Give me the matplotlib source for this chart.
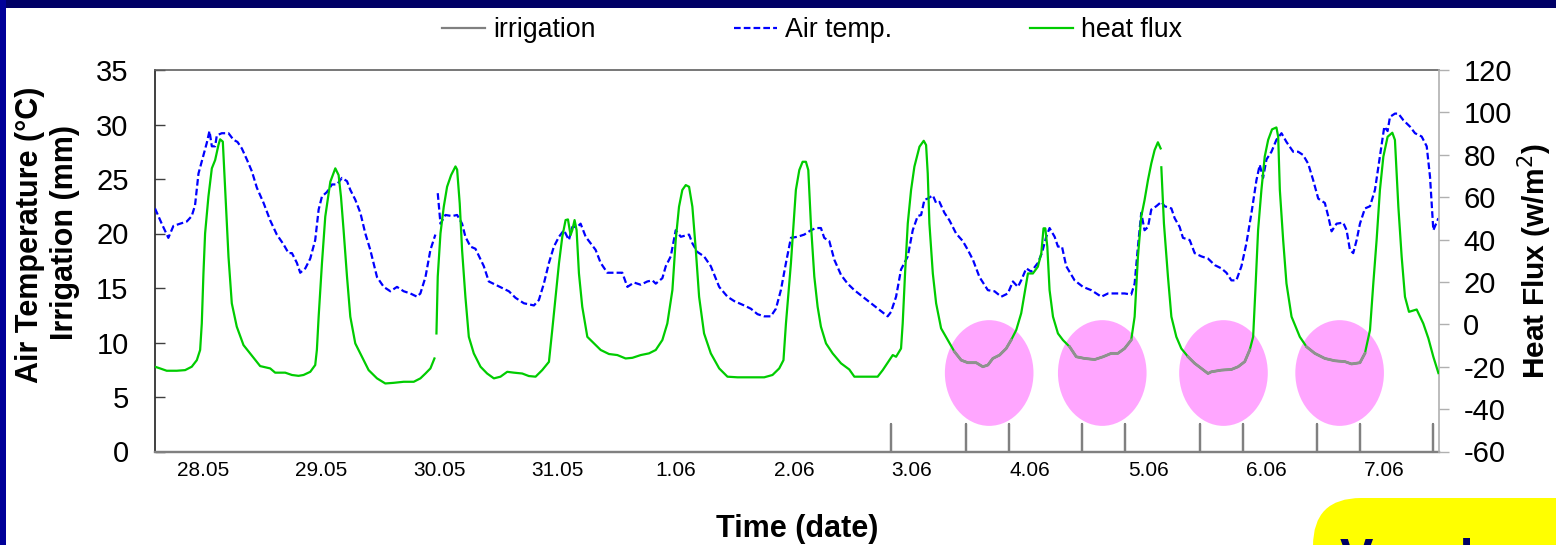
import numpy as np
import matplotlib
matplotlib.use("Agg")
import matplotlib.pyplot as plt
import matplotlib.patches as mpatches
from matplotlib.lines import Line2D
from matplotlib.transforms import IdentityTransform

plt.rcParams['font.family'] = ['Liberation Sans', 'DejaVu Sans']
plt.rcParams['axes.unicode_minus'] = False

# x axis: days counted from 28.05 (label positions at whole days)
day_labels = ["28.05", "29.05", "30.05", "31.05", "1.06", "2.06",
              "3.06", "4.06", "5.06", "6.06", "7.06"]

# air temperature (deg C), NaN = gap in the logger record
temp_t = [-0.407, -0.350, -0.294, -0.251, -0.195, -0.138, -0.096, -0.068, -0.039, 0.003,
          0.031, 0.054, 0.074, 0.102, 0.116, 0.158, 0.215, 0.257, 0.291, 0.328,
          0.370, 0.413, 0.455, 0.512, 0.568, 0.624, 0.681, 0.723, 0.752, 0.794,
          0.822, 0.865, 0.907, 0.949, 0.978, 1.006, 1.048, 1.091, 1.133, 1.175,
          1.218, 1.246, 1.288, 1.331, 1.373, 1.415, 1.472, 1.529, 1.585, 1.641,
          1.698, 1.754, 1.811, 1.839, 1.882, 1.924, 1.966, 1.976, 1.986, 2.009,
          2.051, 2.108, 2.150, 2.192, 2.220, 2.263, 2.305, 2.376, 2.418, 2.475,
          2.531, 2.588, 2.644, 2.715, 2.800, 2.842, 2.884, 2.927, 2.969, 3.012,
          3.054, 3.096, 3.125, 3.167, 3.195, 3.238, 3.280, 3.322, 3.365, 3.421,
          3.478, 3.548, 3.591, 3.647, 3.704, 3.760, 3.803, 3.831, 3.887, 3.916,
          3.958, 4.000, 4.043, 4.113, 4.141, 4.184, 4.240, 4.297, 4.368, 4.438,
          4.495, 4.579, 4.636, 4.692, 4.749, 4.805, 4.848, 4.890, 4.933, 4.975,
          5.031, 5.088, 5.144, 5.187, 5.229, 5.257, 5.300, 5.342, 5.399, 5.455,
          5.512, 5.582, 5.653, 5.724, 5.794, 5.822, 5.865, 5.907, 5.935, 5.964,
          6.006, 6.048, 6.077, 6.105, 6.133, 6.176, 6.204, 6.232, 6.274, 6.317,
          6.373, 6.430, 6.472, 6.515, 6.571, 6.642, 6.698, 6.755, 6.811, 6.854,
          6.896, 6.924, 6.967, 7.009, 7.065, 7.099, 7.136, 7.164, 7.207, 7.235,
          7.269, 7.305, 7.376, 7.447, 7.517, 7.560, 7.602, 7.659, 7.686, 7.742,
          7.799, 7.855, 7.884, 7.912, 7.940, 7.968, 7.997, 8.025, 8.067, 8.110,
          8.138, 8.195, 8.223, 8.265, 8.293, 8.350, 8.392, 8.449, 8.505, 8.562,
          8.618, 8.661, 8.703, 8.745, 8.788, 8.830, 8.873, 8.915, 8.943, 8.971,
          9.000, 9.042, 9.084, 9.127, 9.169, 9.226, 9.268, 9.310, 9.353, 9.395,
          9.438, 9.494, 9.522, 9.551, 9.593, 9.649, 9.678, 9.706, 9.734, 9.763,
          9.791, 9.833, 9.876, 9.918, 9.960, 9.997, 10.025, 10.045, 10.087, 10.116,
          10.158, 10.215, 10.257, 10.313, 10.356, 10.384, 10.412, 10.455]
temp_c = [22.3, 20.9, 19.6, 20.7, 20.9, 21.1, 21.6, 22.6, 25.5, 27.2,
          28.3, 29.4, 28.0, 28.0, 29.0, 29.2, 29.2, 28.6, 28.4, 27.8,
          26.8, 25.7, 24.2, 22.8, 21.2, 19.9, 19.0, 18.2, 18.2, 17.3,
          16.4, 16.8, 17.7, 19.4, 22.2, 23.4, 23.8, 24.5, 24.5, 25.1,
          24.8, 24.0, 23.1, 21.9, 20.0, 18.5, 16.0, 15.1, 14.7, 15.1,
          14.7, 14.5, 14.2, 14.5, 16.0, 18.5, 19.9, np.nan, 23.7, 20.9,
          21.7, 21.6, 21.7, 20.9, 19.7, 18.8, 18.6, 17.0, 15.6, 15.3,
          15.0, 14.7, 14.1, 13.6, 13.4, 13.9, 15.4, 17.3, 18.8, 19.7,
          20.3, 19.4, 20.6, 20.6, 20.9, 19.7, 19.1, 18.5, 17.3, 16.4,
          16.4, 16.4, 15.1, 15.5, 15.3, 15.6, 15.7, 15.4, 15.9, 17.0,
          17.9, 20.3, 19.7, 19.9, 19.1, 18.3, 17.9, 17.0, 15.1, 14.2,
          13.8, 13.4, 13.1, 12.6, 12.4, 12.4, 13.1, 14.8, 17.3, 19.6,
          19.7, 19.9, 20.3, 20.5, 20.5, 19.6, 19.3, 17.6, 16.2, 15.4,
          14.8, 14.2, 13.6, 13.0, 12.4, 12.8, 14.2, 16.7, 17.3, 17.9,
          20.3, 21.6, 21.7, 23.1, 23.2, 23.5, 22.8, 22.9, 21.9, 21.2,
          20.0, 19.3, 18.5, 17.6, 16.0, 14.8, 14.7, 14.2, 14.5, 15.6,
          15.1, 15.7, 16.8, 16.5, 17.3, 18.2, 19.7, 20.5, 19.7, 18.8,
          18.8, 17.0, 15.7, 15.1, 14.8, 14.5, 14.2, 14.5, 14.5, 14.5,
          14.5, 14.4, 15.4, 18.8, 21.9, 20.3, 20.6, 22.2, 22.5, 22.9,
          22.5, 22.3, 21.4, 20.6, 19.6, 19.4, 18.2, 17.9, 17.7, 17.1,
          16.8, 16.4, 15.7, 15.7, 17.0, 19.1, 21.9, 24.9, 26.3, 25.1,
          26.8, 27.5, 28.6, 29.2, 28.4, 27.5, 27.5, 27.2, 26.4, 24.9,
          23.2, 22.8, 21.6, 20.2, 20.9, 21.0, 20.3, 18.5, 18.2, 19.4,
          20.9, 22.3, 22.5, 24.0, 27.1, 29.8, 29.4, 30.7, 31.0, 31.0,
          30.4, 29.8, 29.2, 28.9, 28.0, 25.2, 20.3, 21.4]

# soil heat flux (W/m2), NaN = gap
flux_t = [-0.407, -0.364, -0.308, -0.223, -0.152, -0.096, -0.053, -0.025, -0.011, 0.003,
          0.017, 0.045, 0.074, 0.102, 0.130, 0.144, 0.167, 0.187, 0.215, 0.243,
          0.285, 0.342, 0.398, 0.483, 0.568, 0.610, 0.695, 0.752, 0.808, 0.850,
          0.907, 0.949, 0.963, 0.978, 1.006, 1.034, 1.077, 1.119, 1.147, 1.167,
          1.189, 1.218, 1.246, 1.288, 1.345, 1.401, 1.472, 1.542, 1.613, 1.698,
          1.783, 1.839, 1.882, 1.924, 1.958, 1.966, 1.975, 1.986, 2.009, 2.037,
          2.065, 2.099, 2.136, 2.150, 2.172, 2.192, 2.220, 2.249, 2.291, 2.348,
          2.404, 2.461, 2.517, 2.574, 2.630, 2.701, 2.757, 2.814, 2.870, 2.927,
          2.955, 2.983, 3.012, 3.040, 3.068, 3.088, 3.110, 3.125, 3.144, 3.161,
          3.181, 3.209, 3.252, 3.308, 3.365, 3.435, 3.506, 3.576, 3.633, 3.704,
          3.774, 3.831, 3.887, 3.929, 3.972, 4.000, 4.028, 4.056, 4.085, 4.113,
          4.141, 4.170, 4.198, 4.240, 4.297, 4.368, 4.438, 4.523, 4.636, 4.749,
          4.819, 4.876, 4.912, 4.933, 4.975, 4.998, 5.017, 5.046, 5.074, 5.102,
          5.122, 5.144, 5.173, 5.201, 5.229, 5.272, 5.328, 5.399, 5.469, 5.512,
          5.554, 5.625, 5.709, 5.752, 5.808, 5.837, 5.865, 5.907, 5.921, 5.941,
          5.964, 5.992, 6.020, 6.063, 6.099, 6.119, 6.133, 6.147, 6.176, 6.204,
          6.246, 6.303, 6.359, 6.416, 6.472, 6.543, 6.599, 6.642, 6.684, 6.741,
          6.797, 6.839, 6.882, 6.924, 6.967, 6.981, 7.023, 7.065, 7.094, 7.113,
          7.128, 7.145, 7.164, 7.193, 7.235, 7.277, 7.334, 7.390, 7.461, 7.546,
          7.617, 7.686, 7.742, 7.799, 7.855, 7.884, 7.912, 7.940, 7.968, 7.997,
          8.025, 8.053, 8.081, 8.104, 8.107, 8.110, 8.132, 8.166, 8.195, 8.237,
          8.279, 8.336, 8.392, 8.449, 8.505, 8.533, 8.618, 8.703, 8.760, 8.816,
          8.858, 8.887, 8.906, 8.929, 8.957, 8.985, 9.014, 9.047, 9.084, 9.099,
          9.113, 9.141, 9.169, 9.212, 9.282, 9.339, 9.409, 9.494, 9.579, 9.664,
          9.720, 9.791, 9.833, 9.876, 9.904, 9.932, 9.960, 9.989, 10.025, 10.065,
          10.087, 10.116, 10.144, 10.172, 10.206, 10.271, 10.327, 10.370, 10.412, 10.455]
flux_w = [-20.0, -20.8, -21.9, -21.9, -21.6, -20.0, -16.9, -12.1, 0.4, 24.0,
          42.9, 60.2, 73.6, 77.5, 84.6, 87.3, 86.2, 63.4, 31.9, 9.9,
          -1.1, -9.8, -13.7, -19.7, -20.8, -22.8, -22.8, -23.9, -24.3, -23.9,
          -22.4, -19.2, -12.1, 3.6, 28.8, 50.8, 67.3, 73.6, 70.4, 60.2,
          44.5, 22.5, 3.6, -9.0, -15.3, -21.6, -25.5, -27.9, -27.6, -27.1,
          -27.1, -25.5, -23.2, -20.8, -16.1, np.nan, -4.3, 22.5, 42.9, 55.5,
          64.9, 70.4, 74.5, 73.0, 57.0, 35.0, 13.0, -5.9, -13.7, -20.0,
          -23.2, -25.5, -24.7, -22.4, -22.8, -23.2, -24.4, -24.7, -21.6, -17.7,
          -2.7, 13.0, 28.8, 41.3, 49.2, 49.5, 42.1, 44.5, 49.2, 44.5,
          24.0, 8.3, -5.9, -9.0, -12.1, -14.0, -14.5, -16.1, -15.8, -14.5,
          -13.7, -12.1, -7.4, 0.4, 16.2, 39.8, 55.5, 63.4, 65.7, 64.9,
          55.5, 35.1, 13.0, -4.3, -13.7, -20.8, -24.7, -25.0, -25.0, -25.0,
          -23.9, -20.8, -16.9, 0.4, 28.8, 47.6, 63.4, 72.8, 76.7, 76.7,
          72.8, 47.6, 22.5, 8.3, -1.1, -9.0, -13.7, -18.4, -21.3, -24.7,
          -24.7, -24.7, -24.7, -21.6, -16.9, -14.5, -15.3, -11.4, 0.4, 24.0,
          47.6, 63.4, 74.4, 83.8, 86.6, 84.6, 71.2, 47.6, 24.0, 9.9,
          -1.9, -7.4, -12.9, -16.9, -18.1, -18.1, -20.0, -19.2, -16.1, -14.5,
          -11.4, -7.4, -2.7, 5.2, 19.3, 24.0, 24.0, 27.2, 33.5, 45.3,
          45.3, 36.6, 16.2, 3.6, -4.3, -7.4, -10.6, -15.3, -16.1, -16.6,
          -15.3, -13.7, -13.7, -11.4, -7.4, 3.6, 31.9, 50.8, 58.6, 68.1,
          75.9, 82.2, 85.9, 83.0, np.nan, 74.1, 47.6, 22.5, 3.6, -5.9,
          -11.4, -15.3, -18.4, -20.8, -23.2, -22.4, -21.6, -21.3, -20.0, -17.6,
          -12.1, -5.9, 16.2, 44.5, 63.4, 79.1, 87.0, 92.0, 92.9, 88.5,
          63.4, 39.8, 19.3, 3.6, -5.9, -10.6, -13.7, -16.1, -17.2, -17.6,
          -18.7, -18.1, -13.7, -2.7, 19.3, 39.8, 63.4, 79.1, 88.5, 90.4,
          87.0, 55.5, 31.9, 13.0, 5.9, 7.0, 0.4, -6.6, -15.3, -23.0]

# irrigation events (mm)
irr_t = [5.822, 6.458, 6.822, 7.441, 7.805, 8.441, 8.805, 9.424, 9.788, 10.407]
irr_mm = [2.5] * len(irr_t)

# night periods after irrigation, highlighted
gray_windows = [(6.33, 6.87), (7.29, 7.86), (8.29, 8.86), (9.30, 9.85)]
ellipse_t = [6.653, 7.610, 8.636, 9.619]

x_min, x_max = -0.407, 10.46

fig = plt.figure(figsize=(15.56, 5.45), dpi=100)
ax1 = fig.add_axes([155 / 1556, 1 - 451.5 / 545, (1439 - 155) / 1556, 381.5 / 545])
ax2 = ax1.twinx()

# pink ellipses behind the curves
for tc in ellipse_t:
    ax1.add_patch(mpatches.Ellipse((tc, 7.2), 0.75, 9.7, facecolor='#ffa6ff',
                                   edgecolor='none', zorder=1))

# irrigation line: zero baseline with spikes
ix = [x_min]
iy = [0]
for t, mm in zip(irr_t, irr_mm):
    ix += [t, t, t]
    iy += [0, mm, 0]
ix.append(x_max)
iy.append(0)
ax1.plot(ix, iy, color='#808080', lw=1.6, zorder=3, clip_on=False)

ax1.plot(temp_t, temp_c, color='#0000ff', lw=1.6, linestyle=(0, (3, 1.4)), zorder=3)

ft = np.array(flux_t)
fw = np.array(flux_w)
ax2.plot(ft, fw, color='#00cc00', lw=1.6, zorder=3)
for a, b in gray_windows:
    m = (ft >= a) & (ft <= b)
    ax2.plot(ft[m], fw[m], color='#909090', lw=2.0, zorder=4)

ax1.set_xlim(x_min, x_max)
ax1.set_ylim(0, 35)
ax2.set_ylim(-60, 120)
ax1.set_yticks(np.arange(0, 36, 5))
ax2.set_yticks(np.arange(-60, 121, 20))
ax1.set_xticks(range(len(day_labels)))
ax1.set_xticklabels(day_labels)

ax1.tick_params(axis='x', length=0, labelsize=15, pad=7)
ax1.tick_params(axis='y', direction='in', length=7, width=1, color='#404040',
                labelsize=21, pad=19)
ax2.tick_params(axis='y', direction='out', length=7.5, width=1, color='#b0b0b0',
                labelsize=21, pad=10)

ax1.spines['left'].set_color('#202020')
ax1.spines['left'].set_linewidth(1.2)
ax1.spines['bottom'].set_color('#808080')
ax1.spines['bottom'].set_linewidth(1.6)
ax1.spines['top'].set_color('#606060')
ax1.spines['top'].set_linewidth(1.2)
ax1.spines['right'].set_visible(False)
for s in ['left', 'top', 'bottom']:
    ax2.spines[s].set_visible(False)
ax2.spines['right'].set_color('#b0b0b0')
ax2.spines['right'].set_linewidth(1.2)

ax1.set_xlabel("Time (date)", fontsize=22, fontweight='bold', labelpad=24)
ax2.set_ylabel("Heat Flux (w/m$^2$)", fontsize=21.5, fontweight='bold', labelpad=3)
fig.text(30 / 1556, 1 - 235 / 545, "Air Temperature (°C)", rotation=90,
         ha='center', va='center', fontsize=22, fontweight='bold')
fig.text(65 / 1556, 1 - 233 / 545, "Irrigation (mm)", rotation=90,
         ha='center', va='center', fontsize=22, fontweight='bold')

handles = [Line2D([], [], color='#808080', lw=1.6),
           Line2D([], [], color='#0000ff', lw=1.6, linestyle=(0, (3, 1.4))),
           Line2D([], [], color='#00cc00', lw=1.6)]
fig.legend(handles, ["irrigation", "Air temp.", "heat flux"], loc='center',
           bbox_to_anchor=(812 / 1556, 1 - 30 / 545), ncol=3, frameon=False,
           fontsize=19.3, handlelength=1.6, handletextpad=0.3, columnspacing=5.15)

# slide decorations
fig.add_artist(mpatches.Rectangle((0, 1 - 8 / 545), 1, 8 / 545, transform=fig.transFigure,
                                  facecolor='#000066', edgecolor='none'))
fig.add_artist(mpatches.Rectangle((0, 0), 6 / 1556, 1, transform=fig.transFigure,
                                  facecolor='#000099', edgecolor='none'))
fig.add_artist(mpatches.FancyBboxPatch((1313, -80), 320, 127,
                                       boxstyle="round,pad=0,rounding_size=48",
                                       transform=IdentityTransform(),
                                       facecolor='#ffff00', edgecolor='none'))
fig.text(1340 / 1556, -29 / 545, "Very low W", fontsize=36, fontweight='bold',
         color='#000066', ha='left', va='baseline')

fig.savefig("out.png", dpi=100)
